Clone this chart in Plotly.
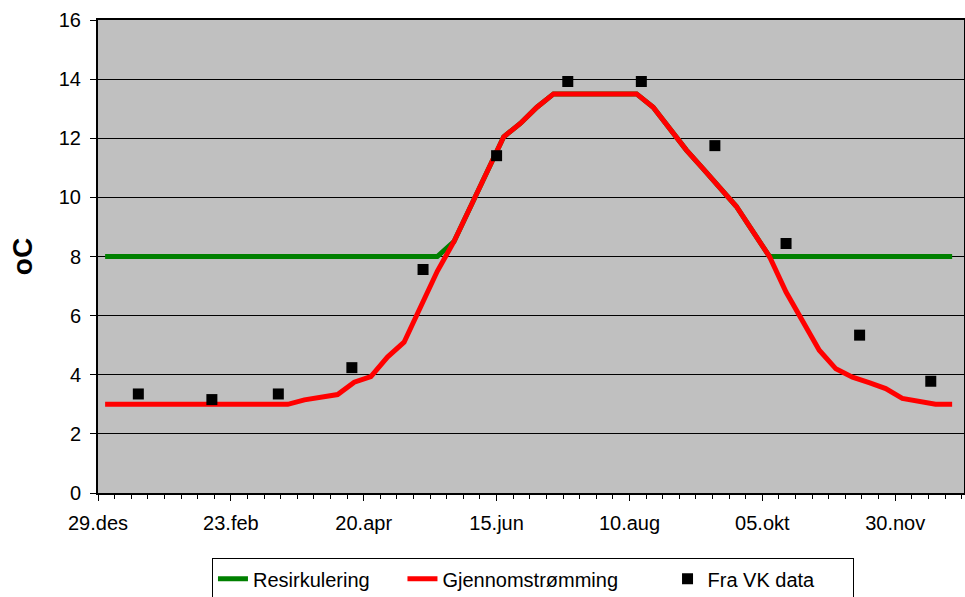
import plotly.graph_objects as go
import pandas as pd

# Weekly series (Mondays from 1 Jan 2007)
week_dates = pd.date_range("2007-01-01", periods=52, freq="7D")

gjennomstromming = [
    3.0, 3.0, 3.0, 3.0, 3.0, 3.0, 3.0, 3.0, 3.0, 3.0, 3.0, 3.0,
    3.15, 3.24, 3.33, 3.75, 3.94, 4.6, 5.1, 6.3, 7.5, 8.5, 9.7, 10.92,
    12.05, 12.5, 13.05, 13.5, 13.5, 13.5, 13.5, 13.5, 13.5, 13.05, 12.3, 11.6,
    10.97, 10.33, 9.7, 8.85, 8.0, 6.8, 5.85, 4.83, 4.2, 3.92, 3.73, 3.53,
    3.2, 3.1, 3.0, 3.0,
]

resirkulering = [
    8.0, 8.0, 8.0, 8.0, 8.0, 8.0, 8.0, 8.0, 8.0, 8.0, 8.0, 8.0,
    8.0, 8.0, 8.0, 8.0, 8.0, 8.0, 8.0, 8.0, 8.0, 8.5, 9.7, 10.92,
    12.05, 12.5, 13.05, 13.5, 13.5, 13.5, 13.5, 13.5, 13.5, 13.05, 12.3, 11.6,
    10.97, 10.33, 9.7, 8.85, 8.0, 8.0, 8.0, 8.0, 8.0, 8.0, 8.0, 8.0,
    8.0, 8.0, 8.0, 8.0,
]

# Monthly observations (15th of each month)
vk_dates = ["2007-01-15", "2007-02-15", "2007-03-15", "2007-04-15", "2007-05-15",
            "2007-06-15", "2007-07-15", "2007-08-15", "2007-09-15", "2007-10-15",
            "2007-11-15", "2007-12-15"]
vk_values = [3.35, 3.16, 3.35, 4.24, 7.56, 11.41, 13.92, 13.92, 11.75, 8.44, 5.34, 3.78]

# Axis ticks
x_tick_vals = ["2006-12-29", "2007-02-23", "2007-04-20", "2007-06-15",
               "2007-08-10", "2007-10-05", "2007-11-30"]
x_tick_text = ["29.des", "23.feb", "20.apr", "15.jun", "10.aug", "05.okt", "30.nov"]
y_tick_vals = [0, 2, 4, 6, 8, 10, 12, 14, 16]

FONT = "Arial, Liberation Sans, sans-serif"
NB = "\u00a0"

fig = go.Figure()
fig.add_trace(go.Scatter(
    x=week_dates, y=resirkulering, mode="lines", name="Resirkulering" + NB * 5,
    line=dict(color="#008000", width=5),
))
fig.add_trace(go.Scatter(
    x=week_dates, y=gjennomstromming, mode="lines", name="Gjennomstrømming" + NB * 8,
    line=dict(color="#FF0000", width=5),
))
fig.add_trace(go.Scatter(
    x=vk_dates, y=vk_values, mode="markers", name="Fra VK data" + NB * 6,
    marker=dict(symbol="square", size=11, color="black"),
))

fig.update_layout(
    width=965, height=597,
    margin=dict(l=98, r=1, t=20, b=104, autoexpand=False),
    paper_bgcolor="white",
    plot_bgcolor="#C0C0C0",
    font=dict(family=FONT, size=20, color="black"),
    showlegend=True,
    legend=dict(
        orientation="h", x=0.1316, xanchor="left", y=-0.138, yanchor="top",
        bordercolor="black", borderwidth=1, bgcolor="white",
        font=dict(family=FONT, size=20, color="black"),
        tracegroupgap=0,
    ),
    xaxis=dict(
        type="date", automargin=False,
        range=["2006-12-29", "2007-12-29"],
        tickmode="array", tickvals=x_tick_vals, ticktext=x_tick_text,
        ticks="outside", ticklen=6, tickwidth=1, tickcolor="black",
        ticklabelstandoff=5,
        showgrid=False, zeroline=False,
        showline=True, linecolor="black", linewidth=2, mirror=True,
        minor=dict(tickmode="linear", tick0="2006-12-29", dtick=7 * 86400000,
                   ticks="outside", ticklen=4, tickcolor="black", showgrid=False),
    ),
    yaxis=dict(
        range=[0, 16], tickmode="array", tickvals=y_tick_vals, automargin=False,
        ticks="outside", ticklen=6, tickwidth=1, tickcolor="black",
        ticklabelstandoff=5,
        showgrid=True, gridcolor="black", gridwidth=1,
        zeroline=False,
        showline=True, linecolor="black", linewidth=2, mirror=True,
    ),
    annotations=[dict(
        text="<b>oC</b>", x=0, xref="paper", xanchor="center", xshift=-76,
        y=0.4986, yref="paper", yanchor="middle", textangle=-90,
        showarrow=False, font=dict(family=FONT, size=28, color="black"),
    )],
)

fig.write_html(
    "out.html",
    config={"displayModeBar": False},
    post_script="document.body.style.margin='0';document.body.style.overflow='hidden';",
)
